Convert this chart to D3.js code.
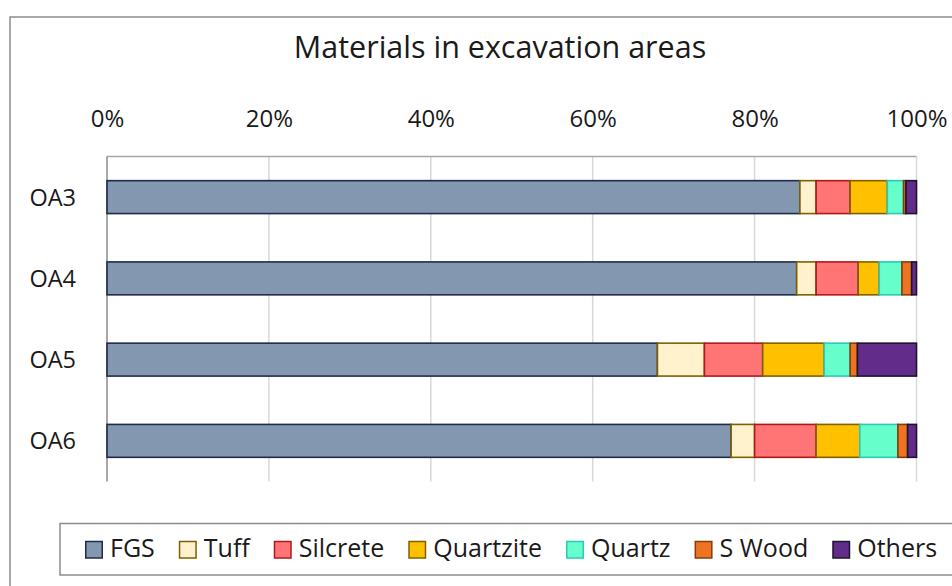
<!DOCTYPE html>
<html><head><meta charset="utf-8">
<script src="https://cdn.jsdelivr.net/npm/d3@7"></script>
<style>html,body{margin:0;padding:0;background:#fff;}svg{display:block;}text{font-family:"Open Sans",Lato,sans-serif;fill:#1a1a1a;}</style>
</head><body>
<svg id="c" width="952" height="586"></svg>
<script>
const title = "Materials in excavation areas";
const categories = ["OA3","OA4","OA5","OA6"];
const seriesNames = ["FGS","Tuff","Silcrete","Quartzite","Quartz","S Wood","Others"];
const FGS       = [85.6, 85.2, 68.0, 77.1];
const Tuff      = [2.0, 2.4, 5.8, 2.9];
const Silcrete  = [4.2, 5.2, 7.2, 7.6];
const Quartzite = [4.6, 2.6, 7.6, 5.4];
const Quartz    = [2.0, 2.8, 3.2, 4.7];
const SWood     = [0.3, 1.2, 0.9, 1.2];
const Others    = [1.3, 0.6, 7.3, 1.1];
const tickValues = [0, 20, 40, 60, 80, 100];

const fills   = ["#8497B0","#FFF2CC","#FF7575","#FFC000","#66FFCC","#EE7422","#612C8A"];
const strokes = ["#1F2B4A","#7F6000","#B01818","#7F6000","#2CC9B8","#843C0C","#1C1430"];

const seriesValues = [FGS, Tuff, Silcrete, Quartzite, Quartz, SWood, Others];
const rows = categories.map((c, i) => {
  const r = {cat: c};
  seriesNames.forEach((s, j) => r[s] = seriesValues[j][i]);
  return r;
});

const svg = d3.select("#c");
// outer chart border
svg.append("rect").attr("x",10).attr("y",17).attr("width",980).attr("height",620)
  .attr("fill","#fff").attr("stroke","#8c8c8c").attr("stroke-width",1.5);

const L = 107, R = 916.5, T = 156.5, B = 481.5;
const x = d3.scaleLinear().domain([0,100]).range([L,R]);
const y = d3.scaleBand().domain(categories).range([T,B]).paddingInner(0.595).paddingOuter(0.2975);

// title
svg.append("text").attr("x",500).attr("y",57.5).attr("text-anchor","middle")
  .style("font-size","30.5px").text(title);

// gridlines
svg.append("g").selectAll("line").data(tickValues.filter(d=>d>0)).join("line")
  .attr("x1",d=>x(d)).attr("x2",d=>x(d)).attr("y1",T).attr("y2",B)
  .attr("stroke","#d9d9d9").attr("stroke-width",1.5);

// top axis (labels)
const xAxis = d3.axisTop(x).tickValues(tickValues).tickFormat(d=>d+"%").tickSize(0).tickPadding(0);
const gx = svg.append("g").attr("transform",`translate(0,${T})`).call(xAxis);
gx.select(".domain").remove();
gx.selectAll("text").attr("y",-29.5).attr("dy",null).style("font-size","24px").style("font-family","Open Sans").attr("fill","#1a1a1a");
svg.append("line").attr("x1",L).attr("x2",R).attr("y1",T).attr("y2",T).attr("stroke","#a6a6a6").attr("stroke-width",1.5);

// left axis
const yAxis = d3.axisLeft(y).tickSize(0).tickPadding(0);
const gy = svg.append("g").attr("transform",`translate(${L},0)`).call(yAxis);
gy.select(".domain").remove();
gy.selectAll("text").attr("x",-31).attr("dy","0.36em").style("font-size","23.5px").style("font-family","Open Sans").attr("fill","#1a1a1a");
svg.append("line").attr("x1",L).attr("x2",L).attr("y1",T).attr("y2",B).attr("stroke","#8c8c8c").attr("stroke-width",1.5);

// stacked bars
const stack = d3.stack().keys(seriesNames)(rows);
svg.append("g").selectAll("g").data(stack).join("g")
  .attr("fill",(d,i)=>fills[i]).attr("stroke",(d,i)=>strokes[i]).attr("stroke-width",1.6)
  .selectAll("rect").data(d=>d).join("rect")
  .attr("x",d=>x(d[0])).attr("width",d=>x(d[1])-x(d[0]))
  .attr("y",d=>y(d.data.cat)).attr("height",y.bandwidth());

// legend
svg.append("rect").attr("x",60).attr("y",523.5).attr("width",920).attr("height",51.5)
  .attr("fill","#fff").attr("stroke","#8c8c8c").attr("stroke-width",1.5);
const lg = svg.append("g");
let lx = 85;
seriesNames.forEach((s,i)=>{
  lg.append("rect").attr("x",lx+0.75).attr("y",541.5).attr("width",16.5).attr("height",16.5)
    .attr("fill",fills[i]).attr("stroke",strokes[i]).attr("stroke-width",1.5);
  const t = lg.append("text").attr("x",lx+25).attr("y",557).style("font-size","25px").text(s);
  lx += 25 + t.node().getComputedTextLength() + 24;
});
</script>
</body></html>
